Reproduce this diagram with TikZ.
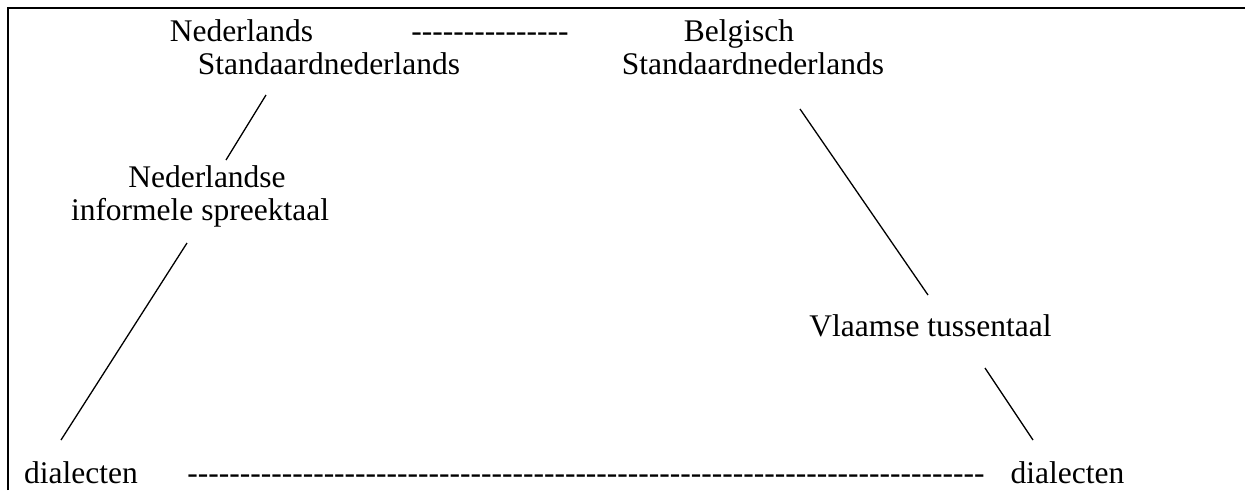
\documentclass[tikz,border=0pt]{standalone}
\usepackage{fontspec}
\setmainfont{Liberation Serif}
\ExplSyntaxOn
\cs_new:Npn \hyphrow #1 { \prg_replicate:nn {#1} { \mbox{-} } }
\ExplSyntaxOff
\begin{document}
\begin{tikzpicture}[x=1pt,y=-1pt,
  lbl/.style={anchor=base,inner sep=0pt,font=\fontsize{31.5}{34}\selectfont},
  conn/.style={line width=1.3pt},
  frame/.style={line width=2pt}]
\useasboundingbox (0,0) rectangle (1245,490);
\draw[frame] (8,490) -- (8,8) -- (1245,8);
% top row
\node[lbl] (nl1) at (241.5,41) {Nederlands};
\node[lbl] (nl2) at (329,74) {Standaardnederlands};
\node[lbl] (dash1) at (490,41) {\hyphrow{15}};
\node[lbl] (be1) at (739,41) {Belgisch};
\node[lbl] (be2) at (753,74) {Standaardnederlands};
% middle
\node[lbl] (nis1) at (207,187) {Nederlandse};
\node[lbl] (nis2) at (200,220) {informele spreektaal};
\node[lbl] (vt) at (930.5,336) {Vlaamse tussentaal};
% bottom
\node[lbl] (d1) at (81,483) {dialecten};
\node[lbl] (dash2) at (586,483) {\hyphrow{76}};
\node[lbl] (d2) at (1067.5,483) {dialecten};
% connector end points
\coordinate (a1) at (266,95);
\coordinate (a2) at (226,160);
\coordinate (b1) at (187,243);
\coordinate (b2) at (61,440);
\coordinate (c1) at (800,109);
\coordinate (c2) at (928,295);
\coordinate (e1) at (985,368);
\coordinate (e2) at (1033,440);
\draw[conn] (a1) -- (a2);
\draw[conn] (b1) -- (b2);
\draw[conn] (c1) -- (c2);
\draw[conn] (e1) -- (e2);
\end{tikzpicture}
\end{document}
